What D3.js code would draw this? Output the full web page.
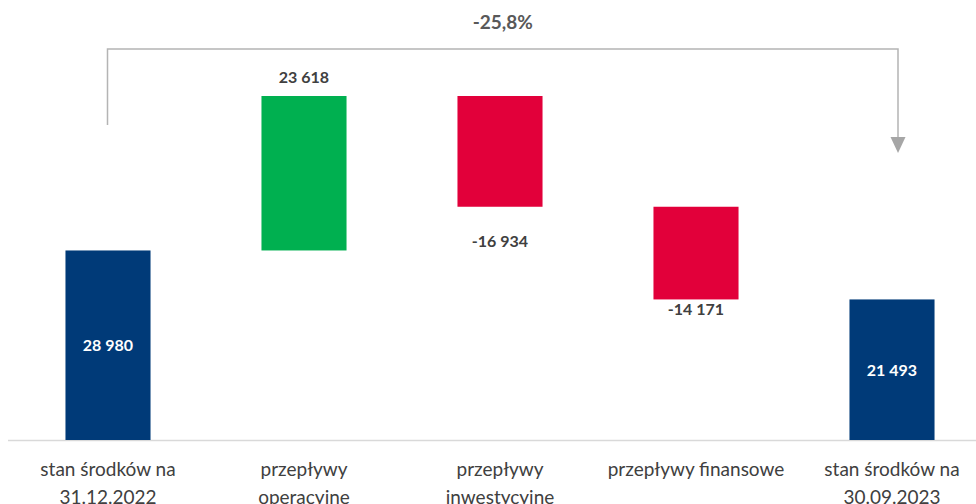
<!DOCTYPE html>
<html>
<head>
<meta charset="utf-8">
<script src="https://cdn.jsdelivr.net/npm/d3@7"></script>
<style>
  body { margin: 0; background: #fff; }
  svg { display: block; font-family: Lato, "Open Sans", sans-serif; }
</style>
</head>
<body>
<svg id="chart" width="976" height="504"></svg>
<script>
// data
var categories = [
  ["stan środków na", "31.12.2022"],
  ["przepływy", "operacyjne"],
  ["przepływy", "inwestycyjne"],
  ["przepływy finansowe"],
  ["stan środków na", "30.09.2023"]
];
var values = [28980, 23618, -16934, -14171, 21493];
var kinds = ["total", "delta", "delta", "delta", "total"];
var changeLabel = "-25,8%";

var svg = d3.select("#chart");
var W = 976, H = 504;

// build the floating bars
var run = 0;
var bars = values.map(function(v, i) {
  var lo, hi;
  if (kinds[i] == "total") {
    lo = 0; hi = v; run = v;
  } else {
    lo = run; hi = run + v; run = hi;
  }
  return { i: i, v: v, kind: kinds[i], y0: Math.min(lo, hi), y1: Math.max(lo, hi) };
});

var x = d3.scaleBand()
  .domain(d3.range(categories.length))
  .range([10, 990])
  .paddingInner(0.566)
  .paddingOuter(0.283);

var y = d3.scaleLinear()
  .domain([0, d3.max(bars, function(d) { return d.y1; })])
  .range([440, 96]);

var fmt = function(v) {
  var s = d3.format(",")(Math.abs(v)).replace(/,/g, " ");
  return (v < 0 ? "-" : "") + s;
};

function colour(d) {
  if (d.kind == "total") return "#003A78";
  return d.v >= 0 ? "#00B050" : "#E2003A";
}

// label gap under negative bars (excel placed them unevenly)
var negGap = { 2: 40, 3: 16 };

// axis line
svg.append("line")
  .attr("x1", 8).attr("x2", W)
  .attr("y1", y(0) + 0.5).attr("y2", y(0) + 0.5)
  .attr("stroke", "#d9d9d9")
  .attr("stroke-width", 1.5);

svg.append("g")
  .selectAll("rect")
  .data(bars)
  .enter()
  .append("rect")
  .attr("x", function(d) { return x(d.i); })
  .attr("width", x.bandwidth())
  .attr("y", function(d) { return y(d.y1); })
  .attr("height", function(d) { return y(d.y0) - y(d.y1); })
  .attr("fill", colour);

// value labels
svg.append("g")
  .selectAll("text")
  .data(bars)
  .enter()
  .append("text")
  .attr("x", function(d) { return x(d.i) + x.bandwidth() / 2; })
  .attr("y", function(d) {
    if (d.kind == "total") return (y(d.y0) + y(d.y1)) / 2 + 6;
    if (d.v >= 0) return y(d.y1) - 13;
    return y(d.y0) + (negGap[d.i] || 25);
  })
  .attr("text-anchor", "middle")
  .attr("font-size", "16px")
  .attr("font-weight", "bold")
  .attr("fill", function(d) { return d.kind == "total" ? "#ffffff" : "#404040"; })
  .text(function(d) { return fmt(d.v); });

// category labels
var cat = svg.append("g")
  .selectAll("text")
  .data(categories)
  .enter()
  .append("text")
  .attr("text-anchor", "middle")
  .attr("font-size", "19px")
  .attr("fill", "#404040")
  .attr("transform", function(d, i) {
    return "translate(" + (x(i) + x.bandwidth() / 2) + ",476)";
  });
cat.selectAll("tspan")
  .data(function(d) { return d; })
  .enter()
  .append("tspan")
  .attr("x", 0)
  .attr("dy", function(d, j) { return j == 0 ? 0 : 28; })
  .text(function(d) { return d; });

// bracket with arrow
var xa = x(0) + x.bandwidth() / 2 - 0.5;
var xb = x(4) + x.bandwidth() / 2 + 6;
var topY = 49;
svg.append("path")
  .attr("d", "M" + xa + ",125 L" + xa + "," + topY + " L" + xb + "," + topY + " L" + xb + ",138")
  .attr("fill", "none")
  .attr("stroke", "#b4b4b4")
  .attr("stroke-width", 1.5);
svg.append("path")
  .attr("d", "M" + (xb - 7.5) + ",137 L" + (xb + 7.5) + ",137 L" + xb + ",153 Z")
  .attr("fill", "#a6a6a6");

svg.append("text")
  .attr("x", (xa + xb) / 2)
  .attr("y", 29)
  .attr("text-anchor", "middle")
  .attr("font-size", "19px")
  .attr("font-weight", "bold")
  .attr("fill", "#595959")
  .text(changeLabel);
</script>
</body>
</html>
